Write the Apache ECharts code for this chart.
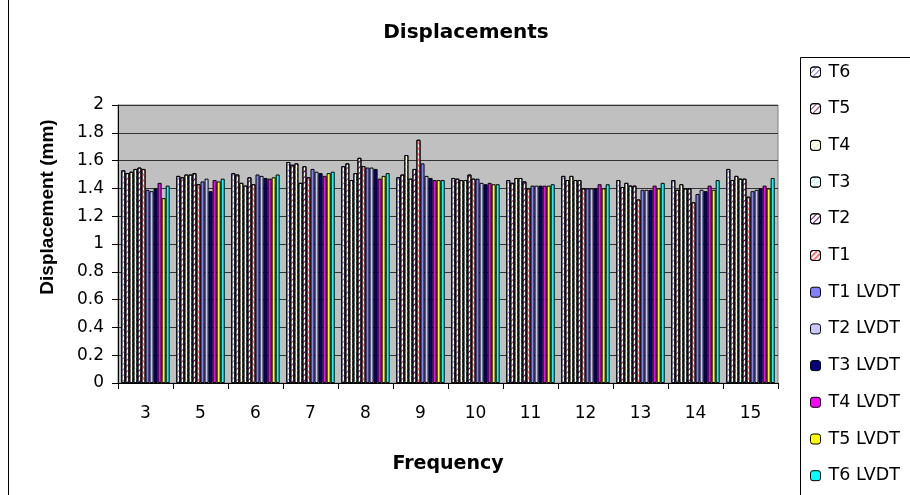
<!DOCTYPE html>
<html>
<head>
<meta charset="utf-8">
<script src="https://cdn.jsdelivr.net/npm/echarts@6/dist/echarts.min.js"></script>
<style>
html,body{margin:0;padding:0;background:#fff;}
#c{width:910px;height:495px;}
</style>
</head>
<body>
<div id="c"></div>
<script>
var categories = ['3','5','6','7','8','9','10','11','12','13','14','15'];
var seriesNames = ['T6','T5','T4','T3','T2','T1','T1 LVDT','T2 LVDT','T3 LVDT','T4 LVDT','T5 LVDT','T6 LVDT'];
var T6      = [1.53,1.49,1.51,1.59,1.56,1.48,1.475,1.46,1.49,1.46,1.46,1.54];
var T5      = [1.51,1.48,1.50,1.57,1.58,1.50,1.47,1.44,1.46,1.41,1.39,1.46];
var T4      = [1.52,1.50,1.44,1.58,1.46,1.64,1.46,1.475,1.49,1.44,1.43,1.49];
var T3      = [1.54,1.50,1.42,1.44,1.51,1.47,1.46,1.475,1.46,1.42,1.40,1.47];
var T2      = [1.55,1.51,1.48,1.56,1.62,1.54,1.50,1.45,1.46,1.42,1.40,1.47];
var T1      = [1.54,1.43,1.43,1.48,1.56,1.75,1.47,1.40,1.40,1.32,1.30,1.34];
var T1_LVDT = [1.39,1.45,1.50,1.54,1.55,1.58,1.47,1.42,1.40,1.39,1.36,1.38];
var T2_LVDT = [1.38,1.47,1.49,1.52,1.55,1.49,1.44,1.42,1.40,1.39,1.39,1.39];
var T3_LVDT = [1.40,1.38,1.475,1.51,1.54,1.475,1.43,1.42,1.40,1.39,1.38,1.40];
var T4_LVDT = [1.44,1.46,1.47,1.49,1.47,1.46,1.44,1.42,1.43,1.42,1.42,1.42];
var T5_LVDT = [1.33,1.45,1.48,1.51,1.49,1.46,1.43,1.42,1.40,1.40,1.39,1.40];
var T6_LVDT = [1.42,1.47,1.50,1.52,1.51,1.46,1.43,1.43,1.43,1.44,1.46,1.475];
var yTicks = {min:0, max:2, interval:0.2};

var values = [T6,T5,T4,T3,T2,T1,T1_LVDT,T2_LVDT,T3_LVDT,T4_LVDT,T5_LVDT,T6_LVDT];
var fills = ['#FFFFFF','#FFFFFF','#FFFFFF','#FFFFFF','#FFFFFF','#FFFFFF','#8080FF','#C8C8FF','#000080','#FF00FF','#FFFF00','#00FFFF'];
var patternColors = ['#7777EE','#993366','#EEEE99','#AAEEEE','#660066','#FF7070',null,null,null,null,null,null];

var chart = echarts.init(document.getElementById('c'), null, {renderer:'canvas'});
var series = seriesNames.map(function(n,i){
  var st = {color:fills[i], borderColor:'#000', borderWidth:1};
  if (patternColors[i]) {
    st.decal = {
      symbol:'rect', symbolSize:1, color:patternColors[i],
      dashArrayX:[1,0], dashArrayY:(i===5?[2,2]:[1,3]), rotation:-Math.PI/4
    };
  }
  return {
    name:n, type:'bar', data:values[i], barGap:'0%', barCategoryGap:'12%',
    itemStyle:st, emphasis:{disabled:true}, animation:false
  };
});

chart.setOption({
  animation:false,
  grid:{left:118, top:105, width:660, height:278, show:true, backgroundColor:'#C0C0C0', borderColor:'#808080', borderWidth:1},
  legend:{
    orient:'vertical', left:810, top:63, padding:0, itemWidth:10, itemHeight:10, itemGap:18.7,
    data:seriesNames, selectedMode:false,
    itemStyle:{borderColor:'#000', borderWidth:1},
    textStyle:{fontFamily:'DejaVu Sans', fontSize:17.5, color:'#000', lineHeight:18, padding:[0,0,0,3]}
  },
  xAxis:{
    type:'category', data:categories,
    name:'Frequency', nameLocation:'middle', nameGap:72,
    nameTextStyle:{fontFamily:'DejaVu Sans', fontWeight:'bold', fontSize:19, color:'#000'},
    axisLine:{lineStyle:{color:'#000', width:1}},
    axisTick:{show:true, length:6, lineStyle:{color:'#000'}},
    axisLabel:{fontFamily:'DejaVu Sans', fontSize:17, color:'#000', margin:22}
  },
  yAxis:{
    type:'value', min:yTicks.min, max:yTicks.max, interval:yTicks.interval,
    axisLine:{show:true, lineStyle:{color:'#000', width:1}},
    axisTick:{show:true, length:6, lineStyle:{color:'#000'}},
    axisLabel:{fontFamily:'DejaVu Sans', fontSize:17, color:'#000', margin:14},
    splitLine:{show:true, lineStyle:{color:'#333', width:1}}
  },
  graphic:[
    {type:'line', shape:{x1:8.5,y1:0,x2:8.5,y2:495}, style:{stroke:'#000', lineWidth:1}, z:-1},
    {type:'rect', shape:{x:800.5,y:57.5,width:130,height:460}, style:{fill:'#fff', stroke:'#000', lineWidth:1}, z:-1},
    {type:'text', x:466, y:33, style:{text:'Displacements', fontFamily:'DejaVu Sans', fontWeight:'bold', fontSize:20, fill:'#000', textAlign:'center', textVerticalAlign:'middle'}},
    {type:'text', x:48, y:207, rotation:Math.PI/2, style:{text:'Displacement (mm)', fontFamily:'Liberation Sans', fontWeight:'bold', fontSize:19, fill:'#000', textAlign:'center', textVerticalAlign:'middle'}}
  ],
  series:series
});
</script>
</body>
</html>
